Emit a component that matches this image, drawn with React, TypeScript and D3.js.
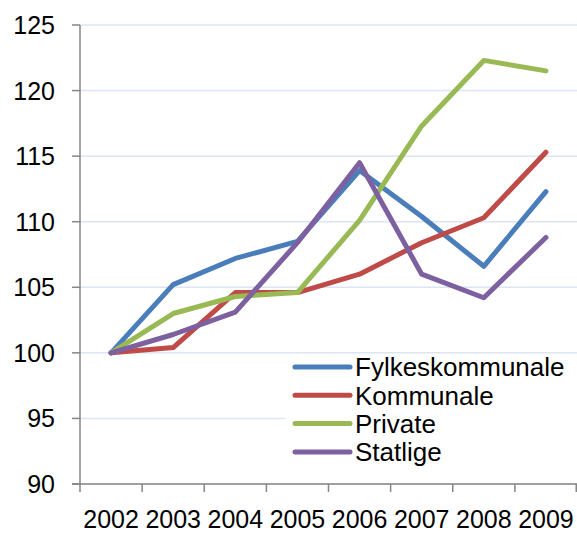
import React from "react";
import * as d3 from "d3";

const years = ["2002", "2003", "2004", "2005", "2006", "2007", "2008", "2009"];
const seriesNames = ["Fylkeskommunale", "Kommunale", "Private", "Statlige"];
const fylkes = [100, 105.2, 107.2, 108.5, 113.9, 110.4, 106.6, 112.3];
const kommunale = [100, 100.4, 104.6, 104.6, 106.0, 108.4, 110.3, 115.3];
const privat = [100, 103.0, 104.3, 104.6, 110.1, 117.3, 122.3, 121.5];
const statlige = [100, 101.4, 103.1, 108.4, 114.5, 106.0, 104.2, 108.8];
const yTicks = [90, 95, 100, 105, 110, 115, 120, 125];
const colors = ["#4a7ebb", "#be4b48", "#98b954", "#7d60a0"];

export default function App() {
  const W = 577, H = 534;
  const left = 80, right = 577, top = 25, bottom = 484;
  const x = d3.scaleBand().domain(years).range([left, right]);
  const y = d3.scaleLinear().domain([90, 125]).range([bottom, top]);
  const all = [fylkes, kommunale, privat, statlige];
  const line = d3
    .line<number>()
    .x((_, i) => (x(years[i]) as number) + x.bandwidth() / 2)
    .y((v) => y(v));
  const font = "'Liberation Sans', Arial, sans-serif";
  const legendX = 295, legendY0 = 367, legendStep = 28.3;
  return (
    <svg
      width={W}
      height={H}
      style={{ position: "absolute", left: 0, top: 0, background: "#fff" }}
    >
      {yTicks.map((t) => (
        <line key={"g" + t} x1={left} x2={right} y1={y(t)} y2={y(t)} stroke="#dce6f2" strokeWidth={1.5} />
      ))}
      <rect x={285} y={356} width={292} height={112} fill="#fff" />
      {all.map((s, i) => (
        <path
          key={"l" + i}
          d={line(s) as string}
          fill="none"
          stroke={colors[i]}
          strokeWidth={5}
          strokeLinejoin="round"
          strokeLinecap="round"
        />
      ))}
      <line x1={left} x2={left} y1={top} y2={bottom} stroke="#868686" strokeWidth={1.5} />
      <line x1={left - 8} x2={right} y1={bottom} y2={bottom} stroke="#868686" strokeWidth={1.5} />
      {yTicks.map((t) => (
        <g key={"yt" + t}>
          <line x1={left - 8} x2={left} y1={y(t)} y2={y(t)} stroke="#868686" strokeWidth={1.5} />
          <text x={55} y={y(t)} dy="0.36em" textAnchor="end" fontFamily={font} fontSize={25} fill="#000">
            {t}
          </text>
        </g>
      ))}
      {years.map((yr) => (
        <line
          key={"xt" + yr}
          x1={(x(yr) as number)}
          x2={(x(yr) as number)}
          y1={bottom}
          y2={bottom + 8}
          stroke="#868686"
          strokeWidth={1.5}
        />
      ))}
      <line x1={right - 0.75} x2={right - 0.75} y1={bottom} y2={bottom + 8} stroke="#868686" strokeWidth={1.5} />
      {years.map((yr) => (
        <text
          key={"xl" + yr}
          x={(x(yr) as number) + x.bandwidth() / 2}
          y={528}
          textAnchor="middle"
          fontFamily={font}
          fontSize={25}
          fill="#000"
        >
          {yr}
        </text>
      ))}
      {seriesNames.map((n, i) => (
        <g key={"lg" + n}>
          <line
            x1={legendX}
            x2={legendX + 55}
            y1={legendY0 + i * legendStep}
            y2={legendY0 + i * legendStep}
            stroke={colors[i]}
            strokeWidth={5}
            strokeLinecap="round"
          />
          <text
            x={legendX + 60}
            y={legendY0 + i * legendStep}
            dy="0.36em"
            fontFamily={font}
            fontSize={26}
            fill="#000"
          >
            {n}
          </text>
        </g>
      ))}
    </svg>
  );
}
